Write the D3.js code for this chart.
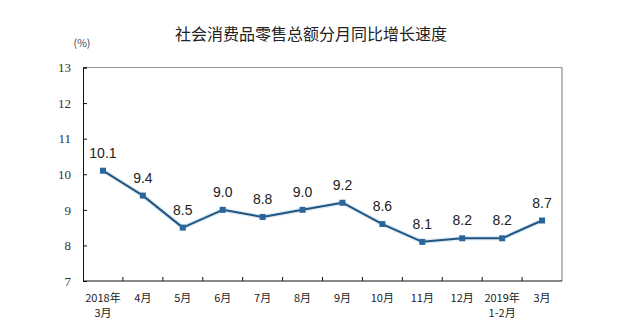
<!DOCTYPE html>
<html>
<head>
<meta charset="utf-8">
<script src="https://cdn.jsdelivr.net/npm/d3@7/dist/d3.min.js"></script>
<style>
  html, body { margin: 0; padding: 0; background: #fff; }
  svg { display: block; }
</style>
</head>
<body>
<script>
// Monthly year-on-year growth of total retail sales of consumer goods (%)
const categories = [
  ["2018年", "3月"], ["4月"], ["5月"], ["6月"], ["7月"], ["8月"],
  ["9月"], ["10月"], ["11月"], ["12月"], ["2019年", "1-2月"], ["3月"]
];
const growth = [10.1, 9.4, 8.5, 9.0, 8.8, 9.0, 9.2, 8.6, 8.1, 8.2, 8.2, 8.7];
const yTicks = [7, 8, 9, 10, 11, 12, 13];
const titleText = "社会消费品零售总额分月同比增长速度";
const unitText = "(%)";

const W = 620, H = 334;
const margin = { left: 83, right: 58, top: 67.5, bottom: 53 };

const svg = d3.select("body").append("svg")
  .attr("width", W).attr("height", H);

const x = d3.scaleBand()
  .domain(d3.range(categories.length))
  .range([margin.left, W - margin.right])
  .paddingInner(0).paddingOuter(0);

const y = d3.scaleLinear()
  .domain([7, 13])
  .range([H - margin.bottom, margin.top]);

const cjk = "'SimSun','Noto Sans CJK SC',sans-serif";

// Title
svg.append("text")
  .attr("x", 311).attr("y", 39.5)
  .attr("text-anchor", "middle")
  .attr("font-family", cjk)
  .attr("font-size", 16)
  .attr("fill", "#222")
  .text(titleText);

// Unit label
svg.append("text")
  .attr("x", 82).attr("y", 47)
  .attr("text-anchor", "middle")
  .attr("font-family", cjk)
  .attr("font-size", 10.5)
  .attr("fill", "#444")
  .text(unitText);

// Frame: top and right edges in gray
svg.append("line")
  .attr("x1", margin.left).attr("x2", W - margin.right)
  .attr("y1", margin.top).attr("y2", margin.top)
  .attr("stroke", "#999").attr("stroke-width", 1);
svg.append("line")
  .attr("x1", W - margin.right).attr("x2", W - margin.right)
  .attr("y1", margin.top).attr("y2", H - margin.bottom)
  .attr("stroke", "#777").attr("stroke-width", 1);

// Y axis with inward ticks
const yAxis = svg.append("g")
  .attr("transform", `translate(${margin.left},0)`)
  .call(d3.axisLeft(y).tickValues(yTicks).tickSize(-4).tickPadding(12)
    .tickFormat(d3.format("d")));
yAxis.select(".domain").attr("stroke", "#111");
yAxis.selectAll(".tick line").attr("stroke", "#111");
yAxis.selectAll(".tick text")
  .attr("font-family", "'Liberation Serif','DejaVu Serif',serif")
  .attr("font-size", 13)
  .attr("fill", "#333");

// X axis: ticks at band boundaries, pointing inward
const boundaries = d3.range(1, categories.length).map(i => x(i));
const xAxisG = svg.append("g")
  .attr("transform", `translate(0,${H - margin.bottom})`);
xAxisG.append("line")
  .attr("x1", margin.left).attr("x2", W - margin.right)
  .attr("stroke", "#111");
xAxisG.selectAll("line.tk").data(boundaries).join("line")
  .attr("class", "tk")
  .attr("x1", d => d).attr("x2", d => d)
  .attr("y1", 0).attr("y2", -4)
  .attr("stroke", "#111");

// Category labels (one or two lines)
const lbl = svg.append("g");
categories.forEach((lines, i) => {
  const t = lbl.append("text")
    .attr("x", x(i) + x.bandwidth() / 2)
    .attr("y", H - margin.bottom + 21)
    .attr("text-anchor", "middle")
    .attr("font-family", cjk)
    .attr("font-size", 11)
    .attr("fill", "#222");
  lines.forEach((s, j) => {
    t.append("tspan")
      .attr("x", x(i) + x.bandwidth() / 2)
      .attr("dy", j === 0 ? 0 : 15)
      .text(s);
  });
});

// Series line
const cx = i => x(i) + x.bandwidth() / 2;
const line = d3.line().x((d, i) => cx(i)).y(d => y(d));

svg.append("path")
  .datum(growth)
  .attr("d", line)
  .attr("fill", "none")
  .attr("stroke", "#dbeaf6")
  .attr("stroke-width", 4.5)
  .attr("stroke-linejoin", "round");
svg.append("path")
  .datum(growth)
  .attr("d", line)
  .attr("fill", "none")
  .attr("stroke", "#22557f")
  .attr("stroke-width", 2)
  .attr("stroke-linejoin", "round");

// Square markers
svg.selectAll("rect.mk").data(growth).join("rect")
  .attr("class", "mk")
  .attr("x", (d, i) => cx(i) - 3)
  .attr("y", d => y(d) - 3)
  .attr("width", 6).attr("height", 6)
  .attr("fill", "#2a659b");

// Value labels
svg.selectAll("text.val").data(growth).join("text")
  .attr("class", "val")
  .attr("x", (d, i) => cx(i))
  .attr("y", d => y(d) - 13)
  .attr("text-anchor", "middle")
  .attr("font-family", "'Liberation Sans',Arial,sans-serif")
  .attr("font-size", 14)
  .attr("fill", "#222")
  .text(d => d3.format(".1f")(d));
</script>
</body>
</html>
